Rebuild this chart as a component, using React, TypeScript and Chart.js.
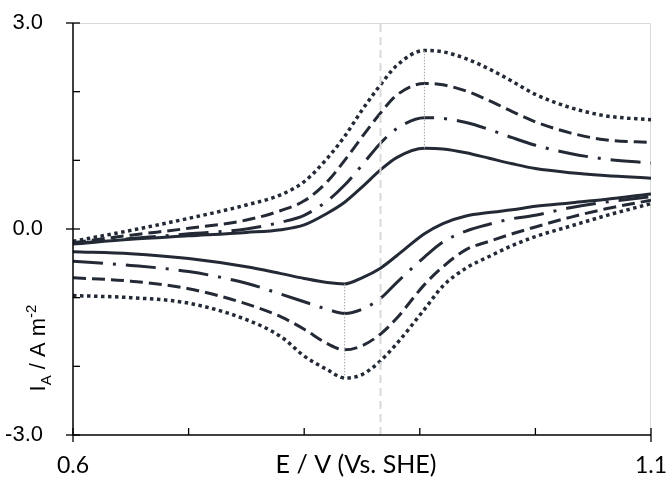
import { useEffect, useRef } from 'react';
import { Chart, registerables } from 'chart.js';

Chart.register(...registerables);

// Potential grid (V vs. SHE)
const potential = [0.60, 0.65, 0.70, 0.75, 0.78, 0.80, 0.82, 0.835, 0.85, 0.866, 0.88, 0.904, 0.92, 0.94, 0.96, 0.98, 1.00, 1.03, 1.06, 1.10];

// Forward (anodic) sweep currents, A m^-2
const fwdSolid = [-0.22, -0.15, -0.10, -0.05, -0.01, 0.06, 0.23, 0.39, 0.61, 0.86, 1.04, 1.175, 1.165, 1.11, 1.03, 0.95, 0.88, 0.82, 0.78, 0.74];
const fwdDashDot = [-0.21, -0.14, -0.07, 0.00, 0.10, 0.20, 0.41, 0.64, 0.93, 1.25, 1.46, 1.62, 1.61, 1.55, 1.45, 1.33, 1.22, 1.10, 1.02, 0.96];
const fwdDashed = [-0.20, -0.09, 0.01, 0.13, 0.27, 0.41, 0.69, 1.00, 1.34, 1.69, 1.95, 2.12, 2.10, 2.01, 1.87, 1.71, 1.56, 1.40, 1.30, 1.26];
const fwdDotted = [-0.18, -0.02, 0.155, 0.35, 0.50, 0.69, 1.03, 1.35, 1.73, 2.10, 2.38, 2.60, 2.58, 2.48, 2.33, 2.15, 1.96, 1.77, 1.65, 1.59];

// Reverse (cathodic) sweep currents, A m^-2
const revSolid = [-0.33, -0.36, -0.43, -0.55, -0.65, -0.72, -0.78, -0.80, -0.71, -0.57, -0.39, -0.07, 0.08, 0.19, 0.24, 0.28, 0.33, 0.38, 0.43, 0.51];
const revDashDot = [-0.47, -0.53, -0.62, -0.79, -0.95, -1.06, -1.17, -1.23, -1.17, -1.01, -0.78, -0.41, -0.19, -0.03, 0.07, 0.15, 0.20, 0.31, 0.39, 0.47];
const revDashed = [-0.71, -0.76, -0.87, -1.09, -1.28, -1.46, -1.67, -1.76, -1.70, -1.53, -1.30, -0.81, -0.55, -0.30, -0.18, -0.07, 0.03, 0.17, 0.29, 0.42];
const revDotted = [-0.97, -1.00, -1.08, -1.32, -1.57, -1.85, -2.05, -2.17, -2.12, -1.92, -1.67, -1.17, -0.83, -0.57, -0.40, -0.24, -0.11, 0.04, 0.19, 0.37];

// Reference potentials
const formalPotential = 0.866;
const anodicPeakE = 0.904;
const cathodicPeakE = 0.835;

// Axis ranges and labelled ticks
const xRange = [0.6, 1.1];
const yRange = [-3, 3];
const xLabelled = [0.6, 1.1];
const yLabelled = [-3, 0, 3];

const INK = '#232a36';

const pts = (ys: number[]) => potential.map((e, i) => ({ x: e, y: ys[i] }));

export default function App() {
  const ref = useRef<HTMLCanvasElement | null>(null);

  useEffect(() => {
    const canvas = ref.current;
    if (!canvas) return;

    const decor = {
      id: 'decor',
      beforeDatasetsDraw(chart: any) {
        const { ctx, chartArea: a } = chart;
        ctx.save();
        ctx.strokeStyle = '#d9d9d9';
        ctx.lineWidth = 1;
        ctx.beginPath();
        ctx.moveTo(a.left, a.top + 0.5);
        ctx.lineTo(a.right - 0.5, a.top + 0.5);
        ctx.lineTo(a.right - 0.5, a.bottom);
        ctx.stroke();
        ctx.restore();
      },
      afterDatasetsDraw(chart: any) {
        const { ctx, chartArea: a, scales } = chart;
        const xs = scales.x;
        const ys = scales.y;
        ctx.save();
        ctx.strokeStyle = '#000';
        ctx.lineWidth = 1.5;
        ctx.beginPath();
        ctx.moveTo(a.left, a.top);
        ctx.lineTo(a.left, a.bottom);
        ctx.lineTo(a.right, a.bottom);
        ctx.stroke();
        ctx.lineWidth = 1.3;
        ys.ticks.forEach((t: any) => {
          const p = ys.getPixelForValue(t.value);
          const major = yLabelled.some((v) => Math.abs(v - t.value) < 1e-6);
          ctx.beginPath();
          ctx.moveTo(major ? a.left - 7 : a.left, p);
          ctx.lineTo(a.left + 7, p);
          ctx.stroke();
        });
        xs.ticks.forEach((t: any) => {
          const p = xs.getPixelForValue(t.value);
          const major = xLabelled.some((v) => Math.abs(v - t.value) < 1e-6);
          ctx.beginPath();
          ctx.moveTo(p, a.bottom - 7);
          ctx.lineTo(p, major ? a.bottom + 7 : a.bottom);
          ctx.stroke();
        });

        // x title
        ctx.fillStyle = '#000';
        ctx.font = '25px Lato';
        ctx.textAlign = 'center';
        ctx.textBaseline = 'middle';
        ctx.fillText('E / V (Vs. SHE)', 356, 465);

        // y title with subscript / superscript
        ctx.translate(37, 348);
        ctx.rotate(-Math.PI / 2);
        const big = '22px "Liberation Sans"';
        const small = '15px "Liberation Sans"';
        const parts: [string, string, number][] = [
          ['I', big, 0],
          ['A', small, 6],
          [' / A m', big, 0],
          ['-2', small, -9],
        ];
        let total = 0;
        parts.forEach(([s, f]) => { ctx.font = f; total += ctx.measureText(s).width; });
        let cx = -total / 2;
        ctx.textAlign = 'left';
        ctx.textBaseline = 'alphabetic';
        parts.forEach(([s, f, dy]) => {
          ctx.font = f;
          ctx.fillText(s, cx, 8 + dy);
          cx += ctx.measureText(s).width;
        });
        ctx.restore();
      },
    };

    const curve = (ys: number[], dash: number[], width = 3) => ({
      data: pts(ys),
      borderColor: INK,
      borderWidth: width,
      borderDash: dash,
      pointRadius: 0,
      fill: false,
      cubicInterpolationMode: 'monotone' as const,
      order: 2,
    });

    const guide = (data: { x: number; y: number }[], color: string, width: number, dash: number[]) => ({
      data,
      borderColor: color,
      borderWidth: width,
      borderDash: dash,
      pointRadius: 0,
      fill: false,
      tension: 0,
      order: 1,
    });

    const dotted = [3.5, 3.5];
    const dashed = [13, 6];
    const dashDot = [30, 10, 3, 10];

    const chart = new Chart(canvas, {
      type: 'line',
      data: {
        datasets: [
          curve(fwdSolid, []),
          curve(revSolid, []),
          curve(fwdDashDot, dashDot),
          curve(revDashDot, dashDot),
          curve(fwdDashed, dashed),
          curve(revDashed, dashed),
          curve(fwdDotted, dotted, 3.5),
          curve(revDotted, dotted, 3.5),
          guide([{ x: formalPotential, y: yRange[0] }, { x: formalPotential, y: yRange[1] }], '#d9d9d9', 2, [8, 5]),
          guide([{ x: anodicPeakE, y: Math.max(...fwdSolid) }, { x: anodicPeakE, y: Math.max(...fwdDotted) }], '#a6a6a6', 1, [1.5, 1.5]),
          guide([{ x: cathodicPeakE, y: Math.min(...revSolid) }, { x: cathodicPeakE, y: Math.min(...revDotted) }], '#a6a6a6', 1, [1.5, 1.5]),
        ],
      },
      options: {
        responsive: false,
        animation: false,
        devicePixelRatio: 1,
        layout: { padding: { top: 23, right: 17, left: 0, bottom: 0 } },
        plugins: { legend: { display: false }, tooltip: { enabled: false } },
        scales: {
          x: {
            type: 'linear',
            min: xRange[0],
            max: xRange[1],
            afterFit: (s: any) => { s.height = 47; s.paddingLeft = 0; s.paddingRight = 0; },
            grid: { display: false },
            border: { display: false },
            ticks: {
              stepSize: 0.1,
              autoSkip: false,
              maxRotation: 0,
              padding: 9,
              color: '#000',
              font: { family: 'Lato', size: 23 },
              callback: (v: any) => (xLabelled.some((l) => Math.abs(l - Number(v)) < 1e-6) ? Number(v).toFixed(1) : ''),
            },
          },
          y: {
            type: 'linear',
            min: yRange[0],
            max: yRange[1],
            afterFit: (s: any) => { s.width = 73; s.paddingTop = 0; s.paddingBottom = 0; },
            grid: { display: false },
            border: { display: false },
            ticks: {
              stepSize: 1,
              autoSkip: false,
              padding: 22,
              color: '#000',
              font: { family: 'Liberation Sans', size: 22 },
              callback: (v: any) => (yLabelled.some((l) => Math.abs(l - Number(v)) < 1e-6) ? Number(v).toFixed(1) : ''),
            },
          },
        },
      },
      plugins: [decor],
    });

    return () => chart.destroy();
  }, []);

  return (
    <div style={{ position: 'absolute', left: 0, top: 0, width: 668, height: 482, background: '#fff' }}>
      <canvas ref={ref} width={668} height={482} style={{ display: 'block' }} />
    </div>
  );
}
